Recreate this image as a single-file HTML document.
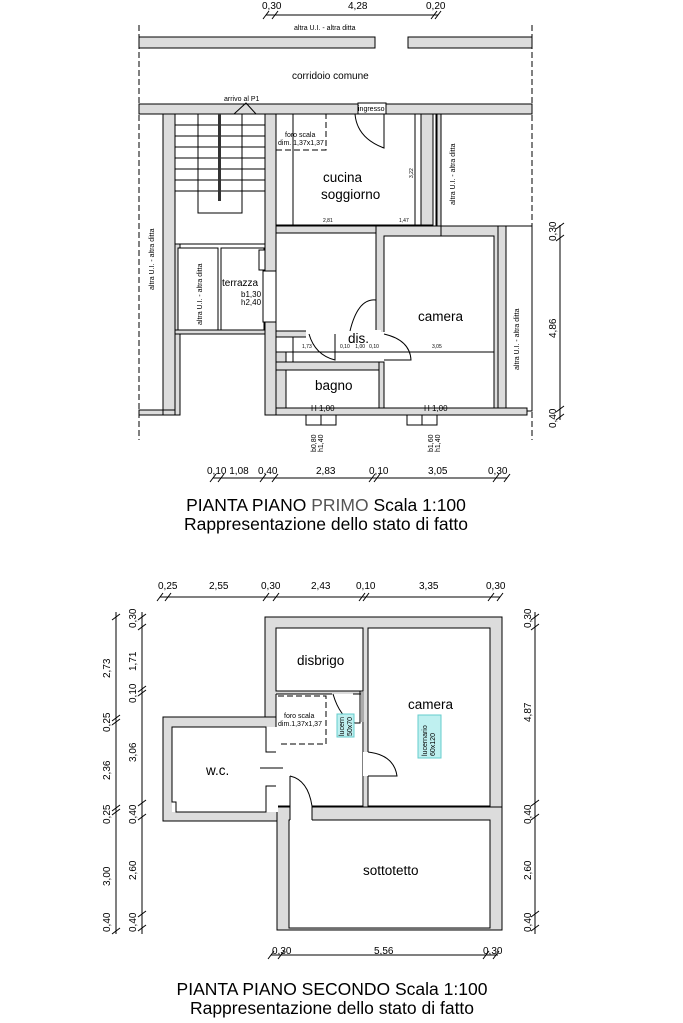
<!DOCTYPE html>
<html><head><meta charset="utf-8"><style>
html,body{margin:0;padding:0;background:#fff}
svg{display:block}
text{font-family:"Liberation Sans",sans-serif;fill:#000}
.w{fill:#dcdcdc;stroke:#000;stroke-width:1}
.r{fill:#fff;stroke:#000;stroke-width:1}
.n{fill:#fff;stroke:none}
.l{stroke:#000;stroke-width:1;fill:none}
.t{stroke:#000;stroke-width:1}
.d{stroke:#000;stroke-width:1;stroke-dasharray:6 3;fill:none}
.s{font-size:7px}
.m{font-size:10px}
.b{font-size:13.5px}
</style></head><body>
<svg width="683" height="1023" viewBox="0 0 683 1023" xmlns="http://www.w3.org/2000/svg">
<!-- ===== TOP PLAN ===== -->
<line class="l" x1="266" y1="15" x2="438" y2="15"/>
<g class="t"><line x1="263" y1="19" x2="269" y2="11"/><line x1="272" y1="19" x2="278" y2="11"/><line x1="431" y1="19" x2="437" y2="11"/><line x1="435" y1="19" x2="441" y2="11"/></g>
<text class="m" x="262" y="9">0,30</text><text class="m" x="348" y="9">4,28</text><text class="m" x="426" y="9">0,20</text>
<line class="d" x1="139" y1="25" x2="139" y2="440" stroke-dasharray="5 4"/>
<line class="d" x1="532" y1="25" x2="532" y2="440" stroke-dasharray="5 4"/>
<text class="s" x="294" y="30">altra U.I. - altra ditta</text>
<rect class="w" x="139" y="37" width="236" height="11"/>
<rect class="w" x="408" y="37" width="124" height="11"/>
<text class="m" x="292" y="79">corridoio comune</text>
<rect class="w" x="139" y="104" width="393" height="10"/>
<rect x="358" y="103" width="28" height="12" fill="#fff" stroke="#000"/>
<text class="s" x="358" y="111">ingresso</text>
<text class="s" x="224" y="101">arrivo al P1</text>
<path class="l" d="M234 114 L246 103 L256 114"/>
<rect class="w" x="163" y="114" width="12" height="301"/>
<rect class="w" x="139" y="410" width="24" height="5"/>
<text class="s" transform="translate(154,290) rotate(-90)">altra U.I. - altra ditta</text>
<rect class="r" x="175" y="114" width="90" height="130"/>
<g class="l">
<line x1="175" y1="125" x2="265" y2="125"/><line x1="175" y1="136" x2="265" y2="136"/><line x1="175" y1="147" x2="265" y2="147"/><line x1="175" y1="158" x2="265" y2="158"/><line x1="175" y1="169" x2="265" y2="169"/><line x1="175" y1="180" x2="265" y2="180"/><line x1="175" y1="191" x2="265" y2="191"/>
<line x1="198" y1="114" x2="198" y2="191"/><line x1="242" y1="114" x2="242" y2="191"/>
<rect x="198" y="191" width="44" height="22"/>
</g>
<rect x="218" y="114" width="3" height="87" fill="#333"/>
<rect class="w" x="175" y="244" width="5" height="171"/>
<rect class="r" x="178" y="248" width="40" height="82"/>
<rect class="r" x="221" y="248" width="43" height="82"/>
<text class="s" transform="translate(202,325) rotate(-90)">altra U.I. - altra ditta</text>
<rect class="w" x="175" y="330" width="90" height="4"/>
<text class="m" x="222" y="286">terrazza</text>
<text class="s" x="241" y="297" style="font-size:8px">b1,30</text>
<text class="s" x="241" y="305" style="font-size:8px">h2,40</text>
<rect class="r" x="259" y="250" width="7" height="20"/>
<rect class="w" x="265" y="114" width="11" height="157"/>
<rect class="w" x="265" y="322" width="11" height="93"/>
<rect class="r" x="263" y="271" width="13" height="51"/>
<path class="d" d="M263 271 L300 271" />
<path class="l" d="M300 275 Q298 295 283 300"/>
<path class="l" d="M300 320 Q298 305 283 300"/>
<text class="s" transform="translate(288,316) rotate(-90)" style="font-size:9px">H 0,80</text>
<rect class="r" x="276" y="114" width="145" height="113"/>
<path class="d" d="M276 150 L326 150 L326 114"/>
<text class="s" x="285" y="137">foro scala</text>
<text class="s" x="278" y="145">dim. 1,37x1,37</text>
<text class="b" x="323" y="182">cucina</text>
<text class="b" x="321" y="199">soggiorno</text>
<path class="l" d="M355 114 Q357 138 384 148 L384 114"/>
<rect class="w" x="421" y="114" width="12" height="117"/>
<line class="l" x1="436" y1="114" x2="436" y2="231"/>
<rect class="w" x="437" y="114" width="4" height="112"/>
<text class="s" transform="translate(455,205) rotate(-90)">altra U.I. - altra ditta</text>
<line class="l" x1="293" y1="114" x2="293" y2="410"/>
<line class="l" x1="415" y1="114" x2="415" y2="231"/>
<line class="l" x1="276" y1="225" x2="433" y2="225"/>
<text class="s" x="323" y="222" style="font-size:5px">2,81</text>
<text class="s" x="399" y="222" style="font-size:5px">1,47</text>
<text class="s" transform="translate(413,178) rotate(-90)" style="font-size:5px">3,22</text>
<rect class="w" x="376" y="226" width="128" height="189"/>
<rect class="w" x="441" y="226" width="86" height="189"/>
<rect class="r" x="505" y="226" width="27" height="185"/>
<rect x="498" y="226" width="8" height="189" class="w"/>
<text class="s" transform="translate(519,370) rotate(-90)">altra U.I. - altra ditta</text>
<rect class="r" x="384" y="236" width="110" height="173"/>
<text class="b" x="418" y="321">camera</text>
<!-- hall / dis -->
<rect class="w" x="276" y="226" width="100" height="10"/>
<rect class="r" x="276" y="233" width="100" height="98"/>
<rect class="w" x="276" y="331" width="33" height="6"/>
<rect class="n" x="306" y="330" width="75" height="33"/>
<rect class="n" x="377" y="332" width="8" height="30"/>
<rect class="w" x="276" y="352" width="10" height="60"/>
<rect class="w" x="276" y="362" width="103" height="8"/>
<rect class="r" x="286" y="370" width="93" height="39"/>
<rect class="w" x="379" y="362" width="5" height="50"/>
<path class="l" d="M309 334 Q315 355 335 360 L335 334"/>
<path class="l" d="M350 331 Q358 298 376 300"/>
<path class="l" d="M384 334 Q410 340 411 360 L384 360"/>
<text class="b" x="348" y="343">dis.</text>
<line class="l" x1="276" y1="352" x2="494" y2="352"/>
<text class="s" x="302" y="348" style="font-size:5px">1,73</text>
<text class="s" x="340" y="348" style="font-size:5px">0,10 &#160;&#160;&#160;1,00 &#160;&#160;0,10</text>
<text class="s" x="432" y="348" style="font-size:5px">3,05</text>
<text class="b" x="315" y="390">bagno</text>
<rect class="w" x="276" y="408" width="251" height="7"/>
<rect class="w" x="163" y="410" width="12" height="5"/>
<text class="s" x="311" y="411" style="font-size:8px">H 1,00</text>
<text class="s" x="424" y="411" style="font-size:8px">H 1,00</text>
<rect class="r" x="306" y="415" width="30" height="10"/>
<line class="l" x1="321" y1="415" x2="321" y2="425"/>
<rect class="r" x="407" y="415" width="30" height="10"/>
<line class="l" x1="422" y1="415" x2="422" y2="425"/>
<text class="s" transform="translate(316,452) rotate(-90)">b0,80</text>
<text class="s" transform="translate(323,452) rotate(-90)">h1,40</text>
<text class="s" transform="translate(433,452) rotate(-90)">b1,60</text>
<text class="s" transform="translate(440,452) rotate(-90)">h1,40</text>
<line class="l" x1="213" y1="478" x2="507" y2="478"/>
<g class="t"><line x1="210" y1="482" x2="216" y2="474"/><line x1="218" y1="482" x2="224" y2="474"/><line x1="260" y1="482" x2="266" y2="474"/><line x1="272" y1="482" x2="278" y2="474"/><line x1="369" y1="482" x2="375" y2="474"/><line x1="374" y1="482" x2="380" y2="474"/><line x1="493" y1="482" x2="499" y2="474"/><line x1="504" y1="482" x2="510" y2="474"/></g>
<text class="m" x="207" y="474">0,10 1,08</text><text class="m" x="258" y="474">0,40</text><text class="m" x="316" y="474">2,83</text><text class="m" x="369" y="474">0,10</text><text class="m" x="428" y="474">3,05</text><text class="m" x="488" y="474">0,30</text>
<line class="l" x1="560" y1="225" x2="560" y2="420"/>
<g class="t"><line x1="556" y1="229" x2="564" y2="223"/><line x1="556" y1="241" x2="564" y2="235"/><line x1="556" y1="412" x2="564" y2="406"/><line x1="556" y1="420" x2="564" y2="414"/></g>
<text class="m" transform="translate(556,241) rotate(-90)">0,30</text>
<text class="m" transform="translate(556,338) rotate(-90)">4,86</text>
<text class="m" transform="translate(556,428) rotate(-90)">0,40</text>
<text x="326" y="511" text-anchor="middle" style="font-size:17.5px">PIANTA PIANO <tspan fill="#555">PRIMO</tspan> Scala 1:100</text>
<text x="326" y="530" text-anchor="middle" style="font-size:17.5px">Rappresentazione dello stato di fatto</text>

<!-- ===== BOTTOM PLAN ===== -->
<line class="l" x1="160" y1="597" x2="500" y2="597"/>
<g class="t"><line x1="157" y1="601" x2="163" y2="593"/><line x1="165" y1="601" x2="171" y2="593"/><line x1="263" y1="601" x2="269" y2="593"/><line x1="273" y1="601" x2="279" y2="593"/><line x1="359" y1="601" x2="365" y2="593"/><line x1="363" y1="601" x2="369" y2="593"/><line x1="488" y1="601" x2="494" y2="593"/><line x1="497" y1="601" x2="503" y2="593"/></g>
<text class="m" x="158" y="589">0,25</text><text class="m" x="209" y="589">2,55</text><text class="m" x="261" y="589">0,30</text><text class="m" x="311" y="589">2,43</text><text class="m" x="356" y="589">0,10</text><text class="m" x="419" y="589">3,35</text><text class="m" x="486" y="589">0,30</text>
<line class="l" x1="116" y1="612" x2="116" y2="934"/>
<line class="l" x1="142" y1="612" x2="142" y2="934"/>
<g class="t">
<line x1="112" y1="620" x2="120" y2="614"/><line x1="112" y1="721" x2="120" y2="715"/><line x1="112" y1="725" x2="120" y2="719"/><line x1="112" y1="811" x2="120" y2="805"/><line x1="112" y1="815" x2="120" y2="809"/><line x1="112" y1="934" x2="120" y2="928"/>
<line x1="138" y1="620" x2="146" y2="614"/><line x1="138" y1="630" x2="146" y2="624"/><line x1="138" y1="692" x2="146" y2="686"/><line x1="138" y1="696" x2="146" y2="690"/><line x1="138" y1="806" x2="146" y2="800"/><line x1="138" y1="820" x2="146" y2="814"/><line x1="138" y1="917" x2="146" y2="911"/><line x1="138" y1="931" x2="146" y2="925"/>
</g>
<text class="m" transform="translate(110,678) rotate(-90)">2,73</text>
<text class="m" transform="translate(110,732) rotate(-90)">0,25</text>
<text class="m" transform="translate(110,780) rotate(-90)">2,36</text>
<text class="m" transform="translate(110,824) rotate(-90)">0,25</text>
<text class="m" transform="translate(110,886) rotate(-90)">3,00</text>
<text class="m" transform="translate(110,932) rotate(-90)">0,40</text>
<text class="m" transform="translate(136,628) rotate(-90)">0,30</text>
<text class="m" transform="translate(136,671) rotate(-90)">1,71</text>
<text class="m" transform="translate(136,703) rotate(-90)">0,10</text>
<text class="m" transform="translate(136,762) rotate(-90)">3,06</text>
<text class="m" transform="translate(136,824) rotate(-90)">0,40</text>
<text class="m" transform="translate(136,880) rotate(-90)">2,60</text>
<text class="m" transform="translate(136,932) rotate(-90)">0,40</text>
<rect class="w" x="265" y="617" width="237" height="191"/>
<rect class="w" x="277" y="807" width="225" height="123"/>
<rect class="w" x="163" y="717" width="114" height="104"/>
<rect class="n" x="276" y="628" width="87" height="63"/>
<rect class="n" x="276" y="694" width="88" height="112"/>
<path class="l" d="M276 628 L363 628 L363 691 L276 691 Z"/>
<path class="l" d="M276 694 L332 694 M353 694 L363 694 L363 806 L312 806 M290 806 L276 806 L276 786 M276 752 L276 694"/>
<rect class="r" x="368" y="628" width="122" height="178"/>
<rect class="n" x="172" y="727" width="106" height="85"/>
<path class="l" d="M276 752 L266 752 L266 727 L172 727 L172 802 L176 802 L176 812 L266 812 L266 786 L276 786"/>
<line class="l" x1="260" y1="768" x2="283" y2="768"/>
<rect class="r" x="289" y="820" width="201" height="108"/>
<rect class="n" x="290" y="800" width="22" height="22"/>
<line class="l" x1="290" y1="776" x2="290" y2="820"/>
<line class="l" x1="312" y1="806" x2="312" y2="820"/>
<path class="l" d="M290 776 Q308 780 312 806"/>
<rect class="n" x="363" y="752" width="6" height="24"/>
<path class="l" d="M368 752 Q394 755 397 776 L368 776"/>
<path class="l" d="M333 694 Q340 718 355 723 L360 723 L360 691"/>
<rect x="361" y="692" width="3" height="30" fill="#aaa"/>
<path class="d" d="M278 696 L326 696 L326 744 L278 744"/>
<text class="s" x="284" y="718">foro scala</text>
<text class="s" x="278" y="726">dim.1,37x1,37</text>
<rect x="337" y="714" width="17" height="23" fill="#bff0f0" stroke="#6cc"/>
<text class="s" transform="translate(344,736) rotate(-90)">lucern</text>
<text class="s" transform="translate(352,736) rotate(-90)">50x70</text>
<rect x="418" y="715" width="23" height="43" fill="#bff0f0" stroke="#6cc"/>
<text class="s" transform="translate(427,756) rotate(-90)">lucernario</text>
<text class="s" transform="translate(435,756) rotate(-90)">60x120</text>
<text class="b" x="297" y="665">disbrigo</text>
<text class="b" x="408" y="709">camera</text>
<text class="b" x="206" y="775">w.c.</text>
<text class="b" x="363" y="875">sottotetto</text>
<line class="l" x1="535" y1="612" x2="535" y2="934"/>
<g class="t"><line x1="531" y1="620" x2="539" y2="614"/><line x1="531" y1="630" x2="539" y2="624"/><line x1="531" y1="806" x2="539" y2="800"/><line x1="531" y1="820" x2="539" y2="814"/><line x1="531" y1="917" x2="539" y2="911"/><line x1="531" y1="931" x2="539" y2="925"/></g>
<text class="m" transform="translate(531,628) rotate(-90)">0,30</text>
<text class="m" transform="translate(531,722) rotate(-90)">4,87</text>
<text class="m" transform="translate(531,824) rotate(-90)">0,40</text>
<text class="m" transform="translate(531,880) rotate(-90)">2,60</text>
<text class="m" transform="translate(531,932) rotate(-90)">0,40</text>
<line class="l" x1="271" y1="955" x2="498" y2="955"/>
<g class="t"><line x1="268" y1="959" x2="274" y2="951"/><line x1="278" y1="959" x2="284" y2="951"/><line x1="483" y1="959" x2="489" y2="951"/><line x1="493" y1="959" x2="499" y2="951"/></g>
<text class="m" x="272" y="954">0,30</text><text class="m" x="374" y="954">5,56</text><text class="m" x="483" y="954">0,30</text>
<text x="332" y="995" text-anchor="middle" style="font-size:17.5px">PIANTA PIANO SECONDO Scala 1:100</text>
<text x="332" y="1014" text-anchor="middle" style="font-size:17.5px">Rappresentazione dello stato di fatto</text>
</svg>
</body></html>
